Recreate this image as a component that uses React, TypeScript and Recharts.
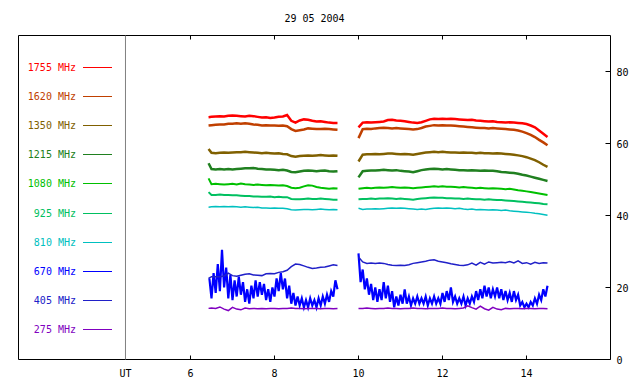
import { LineChart, Line, XAxis, YAxis, Legend, ReferenceLine, ReferenceArea } from 'recharts'

const FONT = '"DejaVu Sans Mono", monospace'

const TITLE = '29 05 2004'
const X_MIN = 1.905
const X_MAX = 16
const UT_SPLIT = 4.452
const X_TICKS = [6, 8, 10, 12, 14]
const Y_TICKS = [0, 20, 40, 60, 80]
const PLOT_TOP = 35.5

// UT hours, two observing runs, null row marks the gap
const TIME = [
  6.43, 6.5, 6.6, 6.7, 6.8, 6.9, 7.0, 7.1, 7.2, 7.3, 7.4, 7.5, 7.6, 7.7, 7.8, 7.9,
  8.0, 8.1, 8.2, 8.3, 8.4, 8.5, 8.6, 8.7, 8.8, 8.9, 9.0, 9.1, 9.2, 9.3, 9.4, 9.5,
  9.75,
  10.0, 10.1, 10.2, 10.3, 10.4, 10.5, 10.6, 10.7, 10.8, 10.9, 11.0, 11.1, 11.2, 11.3, 11.4, 11.5,
  11.6, 11.7, 11.8, 11.9, 12.0, 12.1, 12.2, 12.3, 12.4, 12.5, 12.6, 12.7, 12.8, 12.9, 13.0, 13.1,
  13.2, 13.3, 13.4, 13.5, 13.6, 13.7, 13.8, 13.9, 14.0, 14.1, 14.2, 14.3, 14.4, 14.5,
]

const F1755 = [
  67.3, 67.4, 67.5, 67.6, 67.5, 67.7, 67.8, 67.7, 67.6, 67.5, 67.7, 67.6, 67.4, 67.2, 67.3, 67.1,
  67.2, 67.4, 67.5, 67.9, 66.3, 65.8, 66.4, 66.7, 66.6, 66.3, 66.1, 66.2, 66.0, 65.8, 65.7, 65.7,
  null,
  64.5, 65.8, 65.9, 65.8, 65.9, 66.0, 66.1, 66.5, 66.6, 66.4, 66.3, 66.2, 66.0, 65.8, 65.7, 65.9,
  66.3, 66.7, 66.9, 66.8, 66.9, 66.8, 66.9, 66.8, 66.7, 66.6, 66.5, 66.6, 66.4, 66.3, 66.2, 66.1,
  66.2, 66.0, 65.9, 65.8, 65.9, 65.8, 65.7, 65.6, 65.4, 65.0, 64.5, 63.6, 62.7, 61.8,
]
const F1620 = [
  65.0, 65.1, 65.2, 65.3, 65.3, 65.5, 65.5, 65.6, 65.5, 65.6, 65.5, 65.3, 65.2, 65.0, 65.1, 65.0,
  65.0, 64.9, 65.0, 64.8, 64.0, 63.5, 63.7, 63.9, 64.2, 64.1, 64.0, 64.0, 64.1, 64.0, 63.9, 63.8,
  null,
  61.5, 64.0, 64.1, 64.0, 64.2, 64.3, 64.4, 64.3, 64.2, 64.3, 64.2, 64.1, 64.0, 63.9, 64.0, 64.3,
  64.7, 64.9, 65.1, 65.0, 65.1, 65.0, 65.0, 64.9, 64.8, 64.7, 64.6, 64.5, 64.4, 64.3, 64.3, 64.2,
  64.3, 64.2, 64.1, 64.0, 63.9, 63.8, 63.6, 63.3, 62.9, 62.4, 61.8, 61.0, 60.3, 59.5,
]
const F1350 = [
  58.5, 57.4, 57.3, 57.4, 57.5, 57.4, 57.5, 57.6, 57.6, 57.7, 57.6, 57.5, 57.4, 57.3, 57.4, 57.3,
  57.2, 57.3, 57.1, 57.0, 56.5, 56.3, 56.5, 56.6, 56.7, 56.6, 56.7, 56.8, 56.7, 56.6, 56.7, 56.6,
  null,
  55.0, 56.9, 57.0, 57.0, 57.1, 57.0, 57.1, 57.2, 57.2, 57.1, 57.0, 57.1, 57.0, 56.9, 57.1, 57.3,
  57.5, 57.6, 57.7, 57.6, 57.7, 57.6, 57.5, 57.5, 57.4, 57.5, 57.4, 57.4, 57.3, 57.4, 57.3, 57.3,
  57.2, 57.3, 57.2, 57.1, 57.0, 56.9, 56.7, 56.5, 56.2, 55.8, 55.4, 54.8, 54.1, 53.5,
]
const F1215 = [
  54.5, 52.9, 52.8, 52.9, 52.8, 52.9, 52.8, 52.9, 53.0, 53.1, 53.1, 53.2, 53.0, 52.9, 52.8, 52.8,
  52.7, 52.6, 52.7, 52.5, 52.1, 52.0, 52.2, 52.4, 52.5, 52.4, 52.3, 52.4, 52.5, 52.3, 52.2, 52.3,
  null,
  50.6, 52.3, 52.4, 52.5, 52.5, 52.6, 52.7, 52.6, 52.5, 52.6, 52.4, 52.3, 52.2, 52.0, 52.3, 52.6,
  52.8, 52.9, 53.0, 52.9, 52.8, 52.9, 52.8, 52.7, 52.6, 52.6, 52.5, 52.6, 52.5, 52.4, 52.5, 52.4,
  52.4, 52.3, 52.1, 52.0, 51.9, 51.8, 51.6, 51.3, 51.1, 50.8, 50.5, 50.2, 49.9, 49.6,
]
const F1080 = [
  50.3, 48.7, 48.8, 48.7, 48.6, 48.7, 48.8, 48.6, 48.9, 48.7, 48.6, 48.5, 48.6, 48.5, 48.4, 48.5,
  48.4, 48.3, 48.4, 48.2, 47.7, 47.6, 47.7, 48.1, 48.4, 48.3, 47.9, 47.7, 47.6, 47.4, 47.6, 47.5,
  null,
  47.4, 47.6, 47.7, 47.6, 47.7, 47.8, 47.7, 47.8, 47.9, 47.8, 47.7, 47.8, 47.7, 47.6, 47.7, 47.8,
  47.9, 48.0, 48.1, 48.0, 48.1, 48.0, 48.0, 47.9, 47.8, 47.9, 47.8, 47.7, 47.6, 47.7, 47.6, 47.5,
  47.6, 47.5, 47.4, 47.3, 47.4, 47.2, 47.0, 46.9, 46.7, 46.5, 46.3, 46.1, 45.9, 45.7,
]
const F925 = [
  46.5, 45.7, 45.7, 45.8, 45.7, 45.7, 45.6, 45.6, 45.5, 45.4, 45.4, 45.3, 45.3, 45.2, 45.2, 45.3,
  45.1, 45.2, 45.1, 45.1, 44.6, 44.5, 44.5, 44.6, 44.7, 44.6, 44.6, 44.7, 44.6, 44.5, 44.4, 44.4,
  null,
  44.5, 44.6, 44.6, 44.7, 44.6, 44.7, 44.7, 44.8, 44.7, 44.6, 44.7, 44.6, 44.5, 44.4, 44.6, 44.7,
  44.8, 44.9, 45.0, 44.9, 44.9, 44.8, 44.8, 44.7, 44.7, 44.6, 44.7, 44.6, 44.5, 44.5, 44.4, 44.5,
  44.4, 44.3, 44.3, 44.2, 44.1, 44.0, 43.9, 43.8, 43.7, 43.6, 43.5, 43.4, 43.2, 43.1,
]
const F810 = [
  42.3, 42.4, 42.5, 42.4, 42.5, 42.4, 42.5, 42.4, 42.3, 42.4, 42.3, 42.2, 42.3, 42.1, 42.1, 42.0,
  42.1, 42.0, 42.0, 41.9, 41.6, 41.5, 41.6, 41.7, 41.7, 41.6, 41.7, 41.8, 41.7, 41.6, 41.7, 41.6,
  null,
  42.0, 41.7, 41.8, 41.8, 41.9, 41.8, 41.9, 42.0, 42.1, 42.0, 42.1, 42.0, 41.9, 41.8, 41.7, 41.8,
  41.7, 41.9, 42.0, 42.1, 42.0, 42.1, 42.0, 41.9, 42.0, 41.8, 41.7, 41.8, 41.6, 41.7, 41.6, 41.5,
  41.6, 41.5, 41.4, 41.5, 41.3, 41.2, 41.1, 41.0, 40.9, 40.8, 40.6, 40.5, 40.3, 40.1,
]
const F405 = [
  22.5, 23.0, 23.0, 23.0, 23.2, 24.0, 23.3, 23.1, 23.4, 23.7, 23.8, 23.5, 23.4, 23.3, 23.8, 23.9,
  23.8, 24.2, 24.4, 24.8, 25.8, 26.5, 26.4, 26.0, 25.6, 25.3, 25.4, 25.6, 25.7, 26.0, 26.3, 26.1,
  null,
  28.5, 27.1, 26.7, 26.8, 26.7, 26.8, 26.7, 26.4, 26.2, 26.1, 26.2, 26.1, 26.3, 26.7, 26.9, 27.1,
  27.3, 27.6, 27.7, 27.3, 27.1, 26.9, 26.6, 26.4, 26.2, 26.1, 26.3, 26.8, 26.2, 27.0, 26.5, 27.1,
  26.8, 26.9, 27.0, 26.9, 27.2, 26.8, 27.4, 26.7, 26.9, 26.5, 27.0, 26.7, 26.9, 26.8,
]
const F275 = [
  14.2, 14.3, 14.2, 14.6, 14.0, 13.6, 14.5, 14.0, 13.8, 14.3, 14.1, 14.2, 14.1, 14.2, 14.1, 14.2,
  14.2, 14.1, 14.2, 14.2, 14.3, 14.2, 14.2, 14.1, 14.2, 14.2, 14.2, 14.1, 14.2, 14.2, 14.1, 14.2,
  null,
  14.2, 14.2, 14.3, 14.2, 14.1, 14.2, 14.2, 14.3, 14.2, 14.2, 14.1, 14.2, 14.2, 14.3, 14.2, 14.2,
  14.1, 14.2, 14.2, 14.2, 14.3, 14.2, 14.2, 14.1, 14.2, 14.3, 14.9, 14.4, 14.0, 14.8, 14.1, 13.7,
  14.5, 14.0, 13.8, 14.2, 14.1, 14.2, 14.2, 14.1, 14.2, 14.2, 14.1, 14.2, 14.2, 14.1,
]

// 670 MHz is noisy, sampled finer
const T670 = [
  6.45, 6.5, 6.55, 6.6, 6.65, 6.7, 6.75, 6.8, 6.85, 6.9,
  6.95, 7.0, 7.05, 7.1, 7.15, 7.2, 7.25, 7.3, 7.35, 7.4,
  7.45, 7.5, 7.55, 7.6, 7.65, 7.7, 7.75, 7.8, 7.85, 7.9,
  7.95, 8.0, 8.05, 8.1, 8.15, 8.2, 8.25, 8.3, 8.35, 8.4,
  8.45, 8.5, 8.55, 8.6, 8.65, 8.7, 8.75, 8.8, 8.85, 8.9,
  8.95, 9.0, 9.05, 9.1, 9.15, 9.2, 9.25, 9.3, 9.35, 9.4,
  9.45, 9.5,
  9.75,
  10.0, 10.05, 10.1, 10.15, 10.2, 10.25, 10.3, 10.35, 10.4, 10.45,
  10.5, 10.55, 10.6, 10.65, 10.7, 10.75, 10.8, 10.85, 10.9, 10.95,
  11.0, 11.05, 11.1, 11.15, 11.2, 11.25, 11.3, 11.35, 11.4, 11.45,
  11.5, 11.55, 11.6, 11.65, 11.7, 11.75, 11.8, 11.85, 11.9, 11.95,
  12.0, 12.05, 12.1, 12.15, 12.2, 12.25, 12.3, 12.35, 12.4, 12.45,
  12.5, 12.55, 12.6, 12.65, 12.7, 12.75, 12.8, 12.85, 12.9, 12.95,
  13.0, 13.05, 13.1, 13.15, 13.2, 13.25, 13.3, 13.35, 13.4, 13.45,
  13.5, 13.55, 13.6, 13.65, 13.7, 13.75, 13.8, 13.85, 13.9, 13.95,
  14.0, 14.05, 14.1, 14.15, 14.2, 14.25, 14.3, 14.35, 14.4, 14.45,
  14.5,
]
const F670 = [
  22.5, 17.0, 24.0, 18.5, 26.5, 19.0, 30.5, 20.0, 25.5, 17.0,
  23.5, 16.5, 22.0, 17.5, 23.0, 18.0, 21.5, 16.0, 19.5, 15.5,
  20.5, 17.0, 22.0, 17.5, 21.5, 18.0, 21.0, 16.5, 19.5, 16.0,
  20.0, 17.5, 22.5, 19.0, 24.0, 19.5, 22.5, 17.0, 20.5, 15.5,
  18.5, 15.0, 17.5, 15.0, 17.0, 14.5, 16.5, 14.5, 17.0, 15.0,
  16.5, 14.5, 17.0, 15.0, 17.5, 15.5, 18.0, 16.0, 19.0, 17.5,
  22.0, 19.5,
  null,
  29.5, 21.5, 25.0, 19.5, 22.5, 18.0, 21.0, 16.5, 20.0, 16.0,
  19.5, 16.5, 21.5, 17.0, 20.5, 16.0, 19.0, 14.5, 17.5, 15.0,
  18.0, 15.5, 19.5, 15.5, 17.5, 15.0, 17.0, 15.5, 17.5, 15.5,
  17.0, 15.5, 17.5, 15.0, 17.0, 15.5, 17.5, 15.5, 17.0, 15.5,
  18.5, 16.0, 19.0, 16.5, 20.0, 16.0, 17.5, 15.5, 17.0, 15.5,
  17.5, 15.0, 17.0, 15.5, 17.5, 16.0, 19.0, 16.5, 19.5, 17.0,
  20.5, 17.5, 20.0, 17.0, 19.5, 17.5, 20.0, 17.0, 19.5, 16.5,
  19.0, 16.5, 18.5, 16.0, 19.0, 16.5, 18.0, 15.0, 16.0, 14.5,
  15.5, 14.5, 16.0, 15.0, 17.0, 15.5, 18.0, 16.5, 19.5, 17.5,
  20.5,
]

const SERIES = [
  { key: 'f1755', name: '1755 MHz', color: '#ff0000', width: 2.5, values: F1755 },
  { key: 'f1620', name: '1620 MHz', color: '#c04000', width: 2.5, values: F1620 },
  { key: 'f1350', name: '1350 MHz', color: '#806000', width: 2.5, values: F1350 },
  { key: 'f1215', name: '1215 MHz', color: '#208020', width: 2.5, values: F1215 },
  { key: 'f1080', name: '1080 MHz', color: '#00c000', width: 2, values: F1080 },
  { key: 'f925', name: '925 MHz', color: '#00c060', width: 2, values: F925 },
  { key: 'f810', name: '810 MHz', color: '#00c0c0', width: 1.5, values: F810 },
  { key: 'f670', name: '670 MHz', color: '#0000ff', width: 2.2, values: null },
  { key: 'f405', name: '405 MHz', color: '#2020c8', width: 1.5, values: F405 },
  { key: 'f275', name: '275 MHz', color: '#8000c0', width: 1.5, values: F275 },
]

const rows = TIME.map((t, i) => {
  const row: Record<string, number | null> = { t }
  for (const s of SERIES) if (s.values) row[s.key] = s.values[i]
  return row
})
const rows670 = T670.map((t, i) => ({ t, f670: F670[i] }))

// inward ticks on both bottom and top edges of the frame
const BottomTick = ({ x, y, payload }: any) => (
  <g>
    <line x1={x} x2={x} y1={y} y2={y - 4} stroke="#000" />
    <line x1={x} x2={x} y1={PLOT_TOP} y2={PLOT_TOP + 4} stroke="#000" />
    <text x={x} y={y + 17} textAnchor="middle" fontFamily={FONT} fontSize={10} fill="#000">
      {payload.value}
    </text>
  </g>
)

const RightTick = ({ x, y, payload }: any) => (
  <g>
    <line x1={x} x2={x - 5} y1={y} y2={y} stroke="#000" />
    <text x={x + 6} y={y + 4} textAnchor="start" fontFamily={FONT} fontSize={10} fill="#000">
      {payload.value}
    </text>
  </g>
)

const LegendBox = () => (
  <div style={{ fontFamily: FONT, fontSize: 10 }}>
    {SERIES.map((s) => (
      <div key={s.key} style={{ display: 'flex', alignItems: 'center', height: 29.1 }}>
        <span style={{ width: 58, textAlign: 'right', color: s.color, whiteSpace: 'pre' }}>{s.name}</span>
        <span style={{ marginLeft: 7, width: 29, height: 1, background: s.color }} />
      </div>
    ))}
  </div>
)

export default function App() {
  const drawOrder = [SERIES[7], ...SERIES.filter((s) => s.key !== 'f670')]
  return (
    <div>
      <style>{'body{margin:0}'}</style>
      <LineChart
        width={640}
        height={384}
        data={rows}
        margin={{ top: PLOT_TOP, right: 0, bottom: 0, left: 18.5 }}
        style={{ fontFamily: FONT, background: '#fff' }}
      >
        <XAxis
          dataKey="t"
          type="number"
          domain={[X_MIN, X_MAX]}
          allowDataOverflow
          ticks={X_TICKS}
          interval={0}
          height={24.5}
          tickSize={0}
          tickMargin={0}
          tickLine={false}
          axisLine={false}
          tick={<BottomTick />}
        />
        <YAxis
          orientation="right"
          type="number"
          domain={[0, 90]}
          allowDataOverflow
          ticks={Y_TICKS}
          interval={0}
          width={29.5}
          tickSize={0}
          tickMargin={0}
          tickLine={false}
          axisLine={false}
          tick={<RightTick />}
        />
        <ReferenceArea
          x1={X_MIN}
          x2={X_MAX}
          y1={0}
          y2={90}
          fill="none"
          stroke="#000"
          strokeWidth={1}
          label={{ value: TITLE, position: 'top', offset: 14, fill: '#000', fontSize: 10, fontFamily: FONT }}
        />
        <ReferenceLine
          x={UT_SPLIT}
          stroke="#808080"
          label={{ value: 'UT', position: 'bottom', offset: 10, fill: '#000', fontSize: 10, fontFamily: FONT }}
        />
        <Legend
          layout="horizontal"
          verticalAlign="middle"
          align="center"
          content={<LegendBox />}
          wrapperStyle={{ left: 18, top: 53, width: 110, height: 291 }}
        />
        {drawOrder.map((s) => (
          <Line
            key={s.key}
            dataKey={s.key}
            name={s.name}
            data={s.key === 'f670' ? rows670 : undefined}
            stroke={s.color}
            strokeWidth={s.width}
            dot={false}
            activeDot={false}
            type="linear"
            isAnimationActive={false}
          />
        ))}
      </LineChart>
    </div>
  )
}
